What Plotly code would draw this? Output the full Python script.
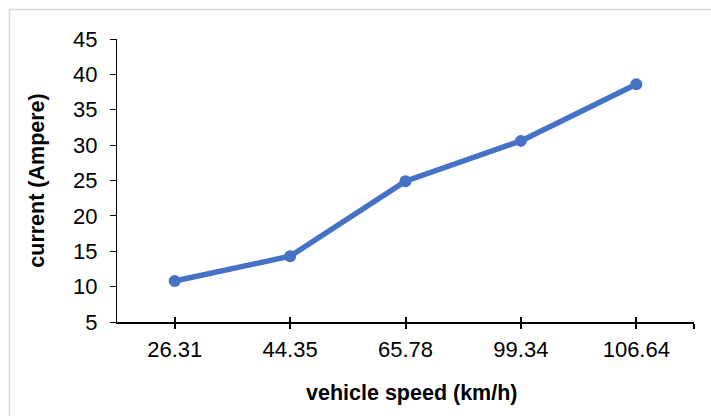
import plotly.graph_objects as go

# Measured current at each vehicle speed
speed_labels = ["26.31", "44.35", "65.78", "99.34", "106.64"]
current_amp = [10.8, 14.3, 24.9, 30.6, 38.6]

y_ticks = [5, 10, 15, 20, 25, 30, 35, 40, 45]

W, H = 711, 416
ML, MR, MT, MB = 117, 17, 39, 94
plot_w = W - ML - MR
plot_h = H - MT - MB

positions = list(range(len(speed_labels)))
font = "Liberation Sans, Arial, sans-serif"

fig = go.Figure()
fig.add_trace(go.Scatter(
    x=positions,
    y=current_amp,
    mode="lines+markers",
    line=dict(color="#4472C4", width=5.5),
    marker=dict(color="#4472C4", size=12),
    showlegend=False,
    cliponaxis=False,
))

# secondary axis carrying the upward half of the crossing x ticks
fig.add_trace(go.Scatter(x=[None], y=[None], xaxis="x2", showlegend=False))

x_tickvals = positions + [len(speed_labels) - 0.5]
x_ticktext = speed_labels + [""]

def px_to_paper_x(px):
    return (px - ML) / plot_w

def px_to_paper_y(py):
    return (H - MB - py) / plot_h

fig.update_layout(
    width=W,
    height=H,
    margin=dict(l=ML, r=MR, t=MT, b=MB),
    paper_bgcolor="white",
    plot_bgcolor="white",
    font=dict(family=font, color="#000000", size=22),
    xaxis=dict(
        range=[-0.5, len(speed_labels) - 0.5],
        tickvals=x_tickvals,
        ticktext=x_ticktext,
        ticks="outside",
        ticklen=5,
        tickwidth=2,
        tickcolor="#000000",
        showline=True,
        linecolor="#000000",
        linewidth=2,
        showgrid=False,
        zeroline=False,
        tickfont=dict(size=22, family=font),
        ticklabelstandoff=2,
    ),
    xaxis2=dict(
        overlaying="x",
        range=[-0.5, len(speed_labels) - 0.5],
        tickvals=x_tickvals,
        ticks="inside",
        ticklen=5,
        tickwidth=2,
        tickcolor="#000000",
        showticklabels=False,
        showgrid=False,
        zeroline=False,
        side="bottom",
        anchor="y",
    ),
    yaxis=dict(
        range=[5, 45],
        tickvals=y_ticks,
        ticks="outside",
        ticklen=6,
        tickwidth=1,
        tickcolor="#000000",
        showline=True,
        linecolor="#000000",
        linewidth=1,
        showgrid=False,
        zeroline=False,
        tickfont=dict(size=22, family=font),
        ticklabelstandoff=8,
        title=dict(text="<b>current (Ampere)</b>", font=dict(size=21.5, family=font), standoff=22),
    ),
    annotations=[
        dict(
            text="<b>vehicle speed (km/h)</b>",
            xref="paper", yref="paper",
            x=px_to_paper_x(412), y=px_to_paper_y(393),
            xanchor="center", yanchor="middle",
            showarrow=False,
            font=dict(size=21.5, family=font, color="#000000"),
        )
    ],
    shapes=[
        dict(
            type="rect",
            xref="paper", yref="paper",
            x0=px_to_paper_x(9.5), x1=px_to_paper_x(W + 20),
            y0=px_to_paper_y(H + 20), y1=px_to_paper_y(9.5),
            line=dict(color="#d9d9d9", width=1.5),
            fillcolor="rgba(0,0,0,0)",
            layer="below",
        )
    ],
)

fig.write_html("out.html")
